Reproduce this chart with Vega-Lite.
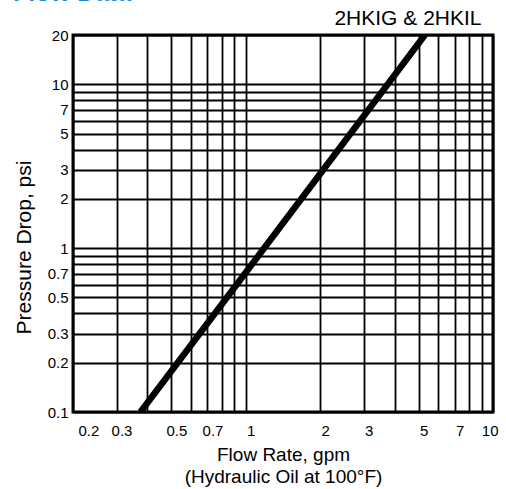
{
  "$schema": "https://vega.github.io/schema/vega-lite/v6.json",
  "autosize": {"type": "none"},
  "padding": {"left": 73, "top": 35, "right": 13, "bottom": 77},
  "width": 420,
  "height": 377,
  "title": {
    "text": "Flow Data",
    "anchor": "start",
    "frame": "group",
    "font": "Liberation Sans",
    "fontSize": 25,
    "fontWeight": "bold",
    "color": "#1f8ad6",
    "dx": -60,
    "dy": -1,
    "offset": 0
  },
  "data": {
    "values": [
      {"flow": 0.375, "drop": 0.1},
      {"flow": 1, "drop": 0.71},
      {"flow": 5.3, "drop": 20}
    ]
  },
  "layer": [
    {
      "mark": {"type": "line", "color": "black", "strokeWidth": 6.5, "strokeCap": "butt", "clip": true},
      "encoding": {
        "x": {
          "field": "flow", "type": "quantitative",
          "scale": {"type": "log", "domain": [0.2, 10], "nice": false},
          "axis": {
            "orient": "bottom",
            "values": [0.2, 0.3, 0.4, 0.5, 0.6, 0.7, 0.8, 0.9, 1, 2, 3, 4, 5, 6, 7, 8, 9, 10],
            "format": "~g",
            "labelExpr": "indexof([0.2, 0.3, 0.5, 0.7, 1, 2, 3, 5, 7, 10], datum.value) >= 0 ? datum.label : ''",
            "labelOffset": 5,
            "labelPadding": 11,
            "title": ["Flow Rate, gpm", "(Hydraulic Oil at 100°F)"],
            "titleLineHeight": 22,
            "titlePadding": 7
          }
        },
        "y": {
          "field": "drop", "type": "quantitative",
          "scale": {"type": "log", "domain": [0.1, 20], "nice": false},
          "axis": {
            "values": [0.1, 0.2, 0.3, 0.4, 0.5, 0.6, 0.7, 0.8, 0.9, 1, 2, 3, 4, 5, 6, 7, 8, 9, 10, 20],
            "format": "~g",
            "labelExpr": "indexof([0.1, 0.2, 0.3, 0.5, 0.7, 1, 2, 3, 5, 7, 10, 20], datum.value) >= 0 ? datum.label : ''",
            "labelPadding": 5,
            "title": "Pressure Drop, psi",
            "titleFontSize": 21,
            "titleY": 212,
            "titlePadding": 13
          }
        }
      }
    },
    {
      "mark": {"type": "point", "opacity": 0},
      "encoding": {
        "x": {
          "field": "flow", "type": "quantitative",
          "axis": {
            "orient": "top",
            "labels": false,
            "grid": false,
            "ticks": false,
            "domain": false,
            "title": "2HKIG & 2HKIL",
            "titleAnchor": "end",
            "titleFontSize": 21,
            "titleFontWeight": "normal",
            "titlePadding": 7,
            "titleX": 408
          }
        },
        "y": {"field": "drop", "type": "quantitative"}
      }
    }
  ],
  "resolve": {"axis": {"x": "independent"}},
  "config": {
    "font": "Liberation Sans",
    "view": {"stroke": "black", "strokeWidth": 3},
    "axis": {
      "domain": false,
      "ticks": false,
      "grid": true,
      "gridColor": "black",
      "gridOpacity": 1,
      "gridWidth": 1.8,
      "labelFont": "Liberation Sans",
      "labelFontSize": 15,
      "labelColor": "black",
      "titleFont": "Liberation Sans",
      "titleFontSize": 19,
      "titleFontWeight": "normal",
      "titleColor": "black"
    }
  }
}
